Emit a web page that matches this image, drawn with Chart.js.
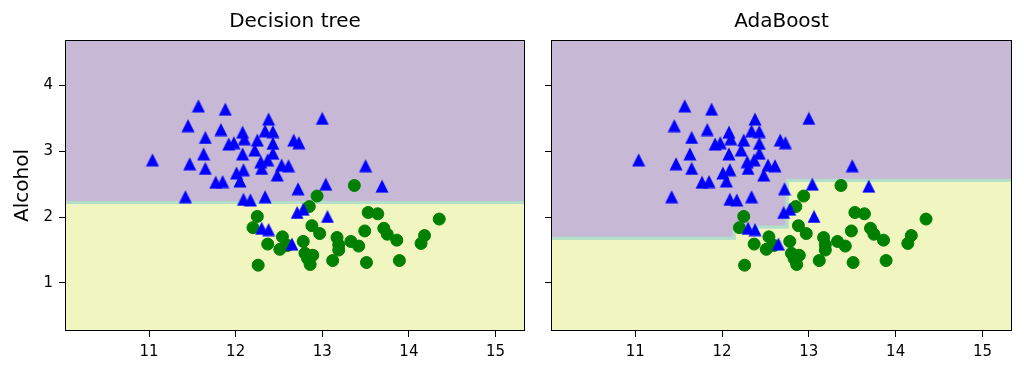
<!DOCTYPE html>
<html>
<head>
<meta charset="utf-8">
<script src="https://cdn.jsdelivr.net/npm/chart.js@4/dist/chart.umd.min.js"></script>
<style>
  body { margin: 0; background: #fff; }
  #wrap { position: relative; width: 1024px; height: 375px; }
  canvas { position: absolute; top: 0; }
</style>
</head>
<body>
<div id="wrap">
  <canvas id="chartTree" width="535" height="375" style="left:0"></canvas>
  <canvas id="chartAda" width="489" height="375" style="left:535px"></canvas>
</div>
<script>
// ejes
const xTicks = [11, 12, 13, 14, 15];
const yTicks = [1, 2, 3, 4];
const xRange = [10.03, 15.34];
const yRange = [0.27, 4.69];

// clase 2 (triangulos azules)
const triX = [11.04, 11.42, 11.45, 11.47, 11.57, 11.63, 11.65, 11.65, 11.77, 11.85,
              11.83, 11.88, 11.98, 11.92, 12.01, 12.09, 12.05, 12.08, 12.10, 12.08,
              12.22, 12.25, 12.38, 12.34, 12.43, 12.43, 12.43, 12.29, 12.37, 12.30,
              12.48, 12.53, 12.61, 12.67, 12.73, 13.00, 13.50, 13.04, 13.69, 12.09,
              12.17, 12.34, 12.72, 12.71, 12.78, 13.06, 12.30, 12.38, 12.65];
const triY = [2.87, 2.31, 3.39, 2.81, 3.69, 2.96, 3.21, 2.74, 2.53, 2.54,
              3.33, 3.64, 3.13, 3.11, 2.67, 2.72, 2.55, 3.29, 3.19, 2.96,
              3.02, 3.17, 3.49, 3.31, 3.30, 3.12, 2.97, 2.84, 2.87, 2.74,
              2.64, 2.79, 2.78, 3.17, 3.13, 3.50, 2.78, 2.50, 2.47, 2.27,
              2.26, 2.31, 2.43, 2.07, 2.12, 2.01, 1.83, 1.81, 1.59];

// clase 3 (circulos verdes)
const circX = [13.37, 12.94, 12.85, 12.25, 12.20, 13.53, 13.64, 14.35, 12.88, 12.97,
               13.49, 13.71, 13.75, 13.86, 14.18, 14.14, 12.37, 12.54, 12.51, 12.60,
               12.78, 13.17, 13.19, 13.33, 13.42, 13.19, 12.80, 12.89, 12.83, 12.86,
               13.12, 13.51, 13.89, 12.26];
const circY = [2.48, 2.32, 2.16, 2.01, 1.84, 2.07, 2.05, 1.97, 1.87, 1.75,
               1.79, 1.83, 1.74, 1.65, 1.72, 1.60, 1.59, 1.70, 1.51, 1.57,
               1.63, 1.69, 1.58, 1.63, 1.56, 1.50, 1.45, 1.42, 1.37, 1.28,
               1.34, 1.31, 1.34, 1.27];

// fronteras de decision
const treeBoundX = [10.03, 15.34];
const treeBoundY = [2.22, 2.22];
const adaBoundX = [10.03, 12.14, 12.75, 15.34];
const adaBoundY = [1.68, 1.85, 2.56, 2.56];

const pts = (xs, ys) => xs.map((x, i) => ({ x: x, y: ys[i] }));

// triangulo tipo matplotlib '^' (ancho = alto)
const triMarker = document.createElement('canvas');
triMarker.width = 14;
triMarker.height = 14;
(function () {
    const c = triMarker.getContext('2d');
    c.fillStyle = '#0000ff';
    c.beginPath();
    c.moveTo(7, 0.5);
    c.lineTo(13.5, 13.5);
    c.lineTo(0.5, 13.5);
    c.closePath();
    c.fill();
})();

const framePlugin = {
    id: 'frame',
    afterDraw(chart) {
        const { ctx, chartArea: a } = chart;
        ctx.save();
        ctx.strokeStyle = '#000';
        ctx.lineWidth = 1;
        ctx.strokeRect(Math.round(a.left) + 0.5, Math.round(a.top) + 0.5,
                       Math.round(a.right - a.left) - 1, Math.round(a.bottom - a.top) - 1);
        ctx.restore();
    }
};

function makeChart(id, title, bx, by, showYLabels, yWidth, padRight) {
    const boundary = pts(bx, by);
    return new Chart(document.getElementById(id), {
        type: 'line',
        data: {
            datasets: [
                { data: pts(triX, triY), showLine: false,
                  pointStyle: triMarker, pointRadius: 7, pointHoverRadius: 7, order: 0 },
                { data: pts(circX, circY), showLine: false,
                  pointStyle: 'circle', pointRadius: 6, pointHoverRadius: 6,
                  backgroundColor: '#008000', borderColor: '#008000', borderWidth: 1, order: 1 },
                { data: boundary, stepped: 'before', pointRadius: 0,
                  borderColor: '#b3dfc9', borderWidth: 3, fill: 'start',
                  backgroundColor: '#f1f5bf', order: 3 },
                { data: boundary, stepped: 'before', pointRadius: 0,
                  borderColor: '#b3dfc9', borderWidth: 3, fill: 'end',
                  backgroundColor: '#c7b9d5', order: 2 }
            ]
        },
        options: {
            responsive: false,
            devicePixelRatio: 1,
            animation: false,
            layout: { padding: { right: padRight, bottom: 0 } },
            plugins: {
                legend: { display: false },
                tooltip: { enabled: false },
                title: {
                    display: true, text: title, color: '#000', fullSize: false,
                    font: { family: 'DejaVu Sans', size: 20, weight: 'normal', lineHeight: 1.2 },
                    padding: { top: 10, bottom: 6 }
                }
            },
            scales: {
                x: {
                    type: 'linear', min: xRange[0], max: xRange[1],
                    afterBuildTicks: s => { s.ticks = xTicks.map(v => ({ value: v })); },
                    afterFit: s => { s.height = 44; },
                    border: { display: false },
                    grid: { drawOnChartArea: false, drawTicks: true, tickLength: 6, color: '#000' },
                    ticks: { color: '#000', padding: 6, font: { family: 'DejaVu Sans', size: 15 } }
                },
                y: {
                    type: 'linear', min: yRange[0], max: yRange[1],
                    afterBuildTicks: s => { s.ticks = yTicks.map(v => ({ value: v })); },
                    afterFit: s => { s.width = yWidth; },
                    border: { display: false },
                    grid: { drawOnChartArea: false, drawTicks: true, tickLength: 6, color: '#000' },
                    ticks: {
                        color: '#000', padding: 6, font: { family: 'DejaVu Sans', size: 15 },
                        callback: v => showYLabels ? v : ''
                    },
                    title: {
                        display: showYLabels, text: 'Alcohol', color: '#000',
                        font: { family: 'DejaVu Sans', size: 20, lineHeight: 1.2 },
                        padding: { top: 11, bottom: 0 }
                    }
                }
            }
        },
        plugins: [framePlugin]
    });
}

makeChart('chartTree', 'Decision tree', treeBoundX, treeBoundY, true, 65, 10);
makeChart('chartAda', 'AdaBoost', adaBoundX, adaBoundY, false, 16, 12);
</script>
</body>
</html>
